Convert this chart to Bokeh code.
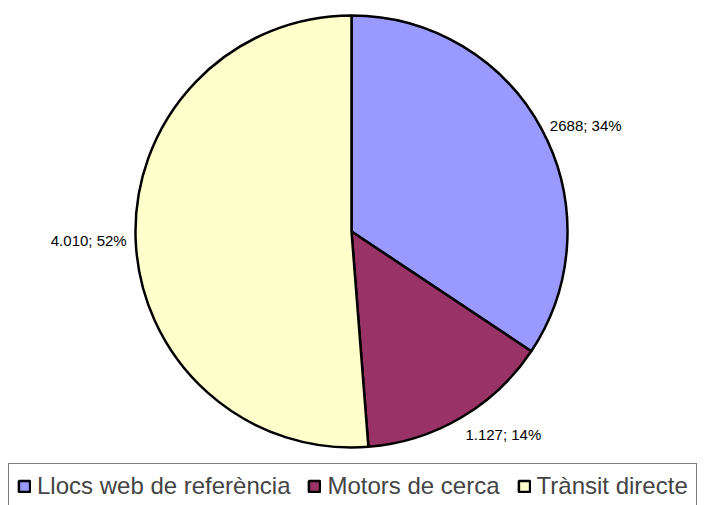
import math
from bokeh.plotting import figure
from bokeh.models import ColumnDataSource, Range1d, Legend, LegendItem
from bokeh.core.properties import value
from bokeh.embed import file_html
from bokeh.resources import INLINE

categories = ["Llocs web de referència", "Motors de cerca", "Trànsit directe"]
values = [2688, 1127, 4010]
value_labels = ["2688", "1.127", "4.010"]
percent_labels = ["34%", "14%", "52%"]
colors = ["#9999FF", "#993366", "#FFFFCC"]

W, H = 704, 505
CX, CY, R = 351, 274, 216
LABEL_R = 225

total = sum(values)
starts, ends, lx, ly, aligns, bases, texts = [], [], [], [], [], [], []
a = math.pi / 2
for v, vl, pl in zip(values, value_labels, percent_labels):
    sweep = v / total * 2 * math.pi
    s, e = a, a - sweep
    starts.append(s)
    ends.append(e)
    mid = (s + e) / 2
    c, sn = math.cos(mid), math.sin(mid)
    lx.append(CX + LABEL_R * c)
    ly.append(CY + LABEL_R * sn)
    aligns.append("left" if c >= 0 else "right")
    bases.append("alphabetic" if sn > 0.3 else ("top" if sn < -0.3 else "middle"))
    texts.append(f"{vl}; {pl}")
    a = e

src = ColumnDataSource(dict(cat=categories, start=starts, end=ends, color=colors,
                            x=[CX] * 3, y=[CY] * 3))
lsrc = ColumnDataSource(dict(x=lx, y=ly, text=texts, align=aligns, base=bases))

p = figure(width=W, height=H, output_backend="svg", toolbar_location=None,
           x_range=Range1d(0, W), y_range=Range1d(0, H), min_border=0)
p.axis.visible = False
p.grid.visible = False
p.outline_line_color = None
p.background_fill_color = "white"

r = p.wedge(x="x", y="y", radius=R, radius_units="screen", start_angle="start",
            end_angle="end", direction="clock", fill_color="color",
            line_color="black", line_width=2.5, source=src)

p.text(x="x", y="y", text="text", text_align="align", text_baseline="base",
       text_font=value("Liberation Sans"), text_font_size="15px",
       text_color="black", source=lsrc)

items = [LegendItem(label=c, renderers=[r], index=i) for i, c in enumerate(categories)]
legend = Legend(items=items, location=(8, -4), orientation="horizontal",
                border_line_color="black", border_line_width=1,
                background_fill_color="white", background_fill_alpha=1,
                label_text_font="Liberation Sans", label_text_font_size="24px",
                glyph_width=14, glyph_height=14, label_standoff=6, spacing=17,
                padding=8, margin=0)
p.add_layout(legend)

open("out.html", "w").write(file_html(p, INLINE))
